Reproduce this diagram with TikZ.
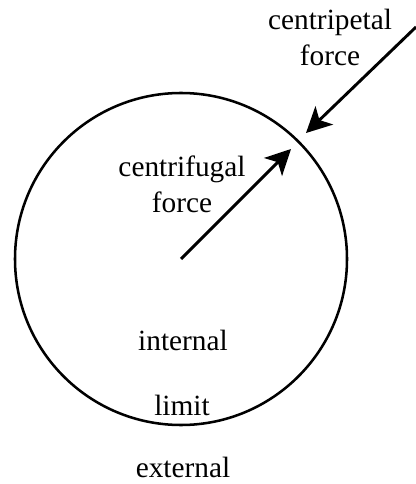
\documentclass[tikz,border=0pt]{standalone}
\usepackage{fontspec}
\setmainfont{Liberation Serif}
\usetikzlibrary{arrows.meta}

\begin{document}
\begin{tikzpicture}[x=0.75pt, y=-0.75pt,
    every node/.style={font=\fontsize{22}{27.5}\selectfont, align=center, inner sep=0pt},
    force/.style={line width=2.2pt, -{Stealth[length=19pt, width=19pt, inset=5pt]}}]
\useasboundingbox (0,0) rectangle (415,484);

%\draw[black, thick] (181,259) circle (2pt);
\coordinate (centre) at (181,259);
\coordinate (pushtip) at (291,149);
\coordinate (pullstart) at (416,27);
\coordinate (pulltip) at (306,133);

\draw[line width=1.9pt] (centre) circle (166);

\path (330,66) node[anchor=base] (pulllabel) {centripetal\\force};
\path (182,213) node[anchor=base] (pushlabel) {centrifugal\\force};
\path (183,350) node[anchor=base] (inside) {internal};
\path (182,415) node[anchor=base] (border) {limit};
\path (183,477) node[anchor=base] (outside) {external};

\draw[force] (centre) -- (pushtip);
\draw[force] (pullstart) -- (pulltip);
\end{tikzpicture}
\end{document}
